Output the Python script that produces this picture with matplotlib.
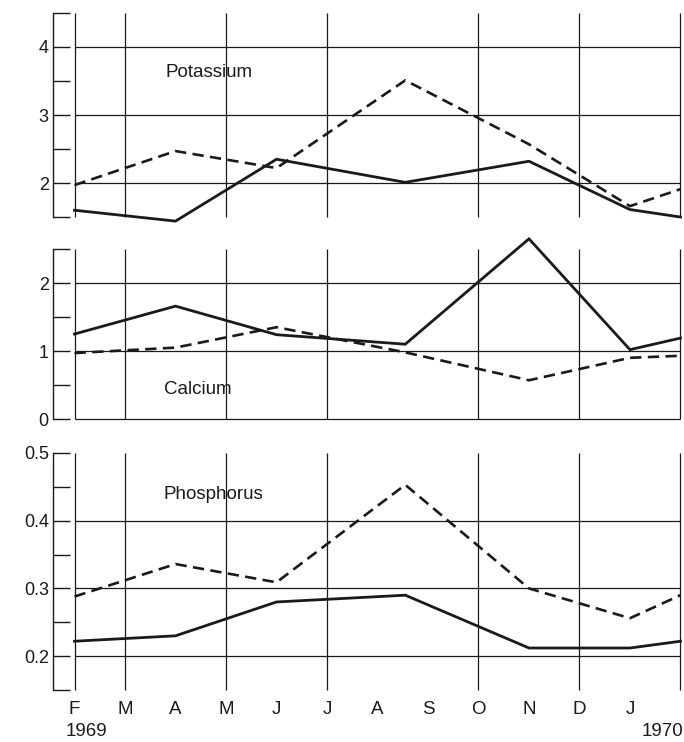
import matplotlib.pyplot as plt

plt.rcParams['font.family'] = ['Liberation Sans', 'DejaVu Sans']

# sampling positions (month index, 0 = Feb 1969, 12 = Feb 1970)
sample_x = [0, 2, 4, 6.55, 9, 11, 12]

potassium_solid = [1.60, 1.44, 2.35, 2.01, 2.32, 1.61, 1.50]
potassium_dashed = [1.97, 2.47, 2.22, 3.51, 2.57, 1.66, 1.91]

calcium_solid = [1.25, 1.66, 1.24, 1.10, 2.65, 1.02, 1.19]
calcium_dashed = [0.97, 1.05, 1.35, 0.98, 0.57, 0.90, 0.93]

phosphorus_solid = [0.222, 0.230, 0.280, 0.290, 0.212, 0.212, 0.222]
phosphorus_dashed = [0.288, 0.336, 0.309, 0.453, 0.300, 0.256, 0.290]

month_labels = ["F", "M", "A", "M", "J", "J", "A", "S", "O", "N", "D", "J"]
vgrid_months = [0, 1, 3, 5, 8, 10, 12]

ink = "#1a1a1a"

fig = plt.figure(figsize=(6.84, 7.42), dpi=100)

panels = [
    # rect, ylim, major ticks, minor ticks, hgrid, label, label pos, series
    ([0.0775, 0.7075, 0.9225, 0.275], (1.5, 4.5), [2, 3, 4], [1.5, 2.5, 3.5, 4.5],
     [2, 3, 4], "Potassium", (1.81, 3.63), potassium_solid, potassium_dashed),
    ([0.0775, 0.4353, 0.9225, 0.2291], (0, 2.5), [0, 1, 2], [0.5, 1.5, 2.5],
     [0, 1, 2], "Calcium", (1.77, 0.44), calcium_solid, calcium_dashed),
    ([0.0775, 0.0701, 0.9225, 0.3194], (0.15, 0.5), [0.2, 0.3, 0.4, 0.5],
     [0.15, 0.25, 0.35, 0.45], [0.2, 0.3, 0.4], "Phosphorus", (1.77, 0.438),
     phosphorus_solid, phosphorus_dashed),
]

axes = []
for rect, ylim, major, minor, hgrid, name, pos, solid, dashed in panels:
    ax = fig.add_axes(rect)
    ax.set_xlim(-0.426, 12.07)
    ax.set_ylim(*ylim)
    for s in ["top", "right", "bottom"]:
        ax.spines[s].set_visible(False)
    ax.spines["left"].set_color(ink)
    ax.spines["left"].set_linewidth(1.0)

    ax.hlines(hgrid, 0, 12, colors=ink, linewidth=0.9, zorder=1, clip_on=False)
    ax.vlines(vgrid_months, ylim[0], ylim[1], colors=ink, linewidth=0.9, zorder=1,
              clip_on=False)

    ax.plot(sample_x, solid, color=ink, linewidth=2.0, clip_on=False, zorder=3,
            solid_joinstyle="miter")
    ax.plot(sample_x, dashed, color=ink, linewidth=1.9, dashes=(4.3, 2.4),
            clip_on=False, zorder=3)

    ax.set_yticks(major)
    ax.set_yticks(minor, minor=True)
    ax.set_yticklabels([f"{v:g}" for v in major])
    ax.tick_params(axis="y", which="both", direction="in", length=12, width=1.0,
                   color=ink, labelsize=13, pad=3, labelcolor=ink)
    ax.text(pos[0], pos[1], name, fontsize=13.5, color=ink, va="center", ha="left")
    axes.append(ax)

for ax in axes[:2]:
    ax.set_xticks([])

axb = axes[2]
axb.set_xticks(range(12))
axb.set_xticklabels(month_labels)
axb.tick_params(axis="x", length=0, pad=8, labelsize=13.5, labelcolor=ink)

fig.text(66 / 684, 1 - 732 / 742, "1969", fontsize=13.5, color=ink, ha="left", va="center")
fig.text(683 / 684, 1 - 732 / 742, "1970", fontsize=13.5, color=ink, ha="right", va="center")

fig.savefig("out.png", dpi=100, facecolor="white")
